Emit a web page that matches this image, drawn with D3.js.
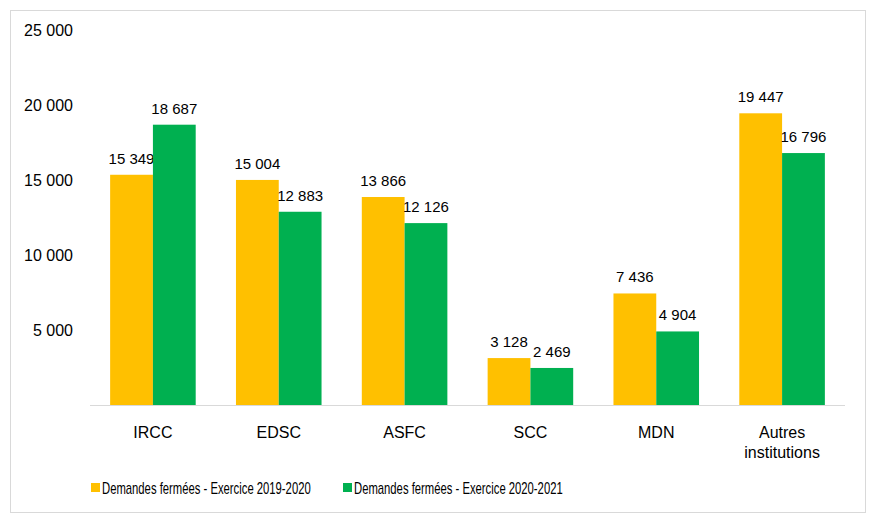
<!DOCTYPE html>
<html><head><meta charset="utf-8">
<script src="https://cdn.jsdelivr.net/npm/d3@7"></script>
<style>body{margin:0;background:#fff}svg{display:block}text{font-family:"Liberation Sans",Arial,sans-serif;fill:#000}</style>
</head><body><svg id="c" width="875" height="523"></svg>
<script>
const categories=[["IRCC"],["EDSC"],["ASFC"],["SCC"],["MDN"],["Autres","institutions"]];
const series1=[15349,15004,13866,3128,7436,19447];
const series2=[18687,12883,12126,2469,4904,16796];
const seriesNames=["Demandes fermées - Exercice 2019-2020","Demandes fermées - Exercice 2020-2021"];
const colors=["#FFC000","#00B050"];
const yTicks=[5000,10000,15000,20000,25000];

const svg=d3.select("#c");
svg.append("rect").attr("x",10.5).attr("y",10.5).attr("width",855).attr("height",502).attr("fill","#fff").attr("stroke","#d9d9d9");
const x=d3.scaleBand().domain(d3.range(categories.length)).range([90,845]).paddingInner(0.32).paddingOuter(0.16);
const y=d3.scaleLinear().domain([0,25000]).range([405,30]);
const fmt=v=>d3.format(",")(v).replace(/,/g," ");
const bw=x.bandwidth()/2;
const data=[series1,series2];
data.forEach((s,si)=>{
  svg.append("g").selectAll("rect").data(s).join("rect")
    .attr("x",(d,i)=>x(i)+si*bw).attr("y",d=>y(d)).attr("width",bw).attr("height",d=>y(0)-y(d)).attr("fill",colors[si]);
  svg.append("g").selectAll("text").data(s).join("text")
    .attr("x",(d,i)=>x(i)+si*bw+bw/2).attr("y",d=>y(d)-11).attr("text-anchor","middle").attr("font-size",15).text(fmt);
});
svg.append("line").attr("x1",90).attr("x2",845).attr("y1",405.5).attr("y2",405.5).attr("stroke","#d9d9d9");
svg.append("g").selectAll("text").data(yTicks).join("text")
  .attr("x",73).attr("y",d=>y(d)+6).attr("text-anchor","end").attr("font-size",16).text(fmt);
categories.forEach((c,i)=>{
  c.forEach((t,j)=>svg.append("text").attr("x",x(i)+x.bandwidth()/2).attr("y",438+j*20).attr("text-anchor","middle").attr("font-size",16).text(t));
});
const lx=[91,343];
seriesNames.forEach((n,i)=>{
  svg.append("rect").attr("x",lx[i]).attr("y",483).attr("width",9).attr("height",9).attr("fill",colors[i]);
  const g=svg.append("g");
  const t=g.append("text").attr("x",0).attr("y",0).attr("font-size",16).text(n);
  const w=t.node().getComputedTextLength();
  g.attr("transform",`translate(${lx[i]+11},494) scale(${209/w},1)`);
});
</script></body></html>
